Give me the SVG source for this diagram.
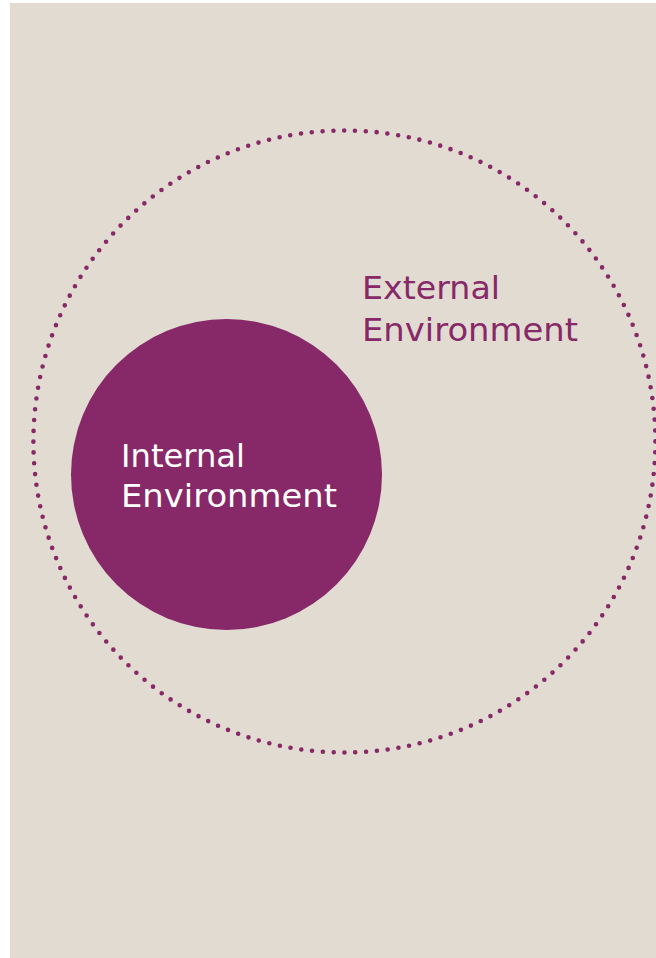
<svg xmlns="http://www.w3.org/2000/svg" width="656" height="958" viewBox="0 0 656 958">
<style>
.bg{fill:#E1DBD2}
.lbl{font-family:"DejaVu Sans","Liberation Sans",sans-serif;font-size:32px}
.ext{fill:#872868}
.int{fill:#FFFFFF}
</style>
<rect x="0" y="0" width="656" height="958" fill="#FFFFFF"/>
<rect class="bg" x="10" y="3" width="646" height="955"/>
<g id="external">
<circle cx="344.4" cy="441.5" r="311" fill="none" stroke="#872868" stroke-width="4.6" stroke-linecap="round" stroke-dasharray="0 10.85"/>
<text class="lbl ext" x="362" y="298.5" textLength="138" lengthAdjust="spacingAndGlyphs">External</text>
<text class="lbl ext" x="362" y="341" textLength="216" lengthAdjust="spacingAndGlyphs">Environment</text>
</g>
<g id="internal">
<circle cx="226.5" cy="474.5" r="155.5" fill="#872868"/>
<text class="lbl int" x="121" y="467" textLength="124" lengthAdjust="spacingAndGlyphs">Internal</text>
<text class="lbl int" x="121" y="507" textLength="216" lengthAdjust="spacingAndGlyphs">Environment</text>
</g>
<g id="connectors"/>
</svg>
